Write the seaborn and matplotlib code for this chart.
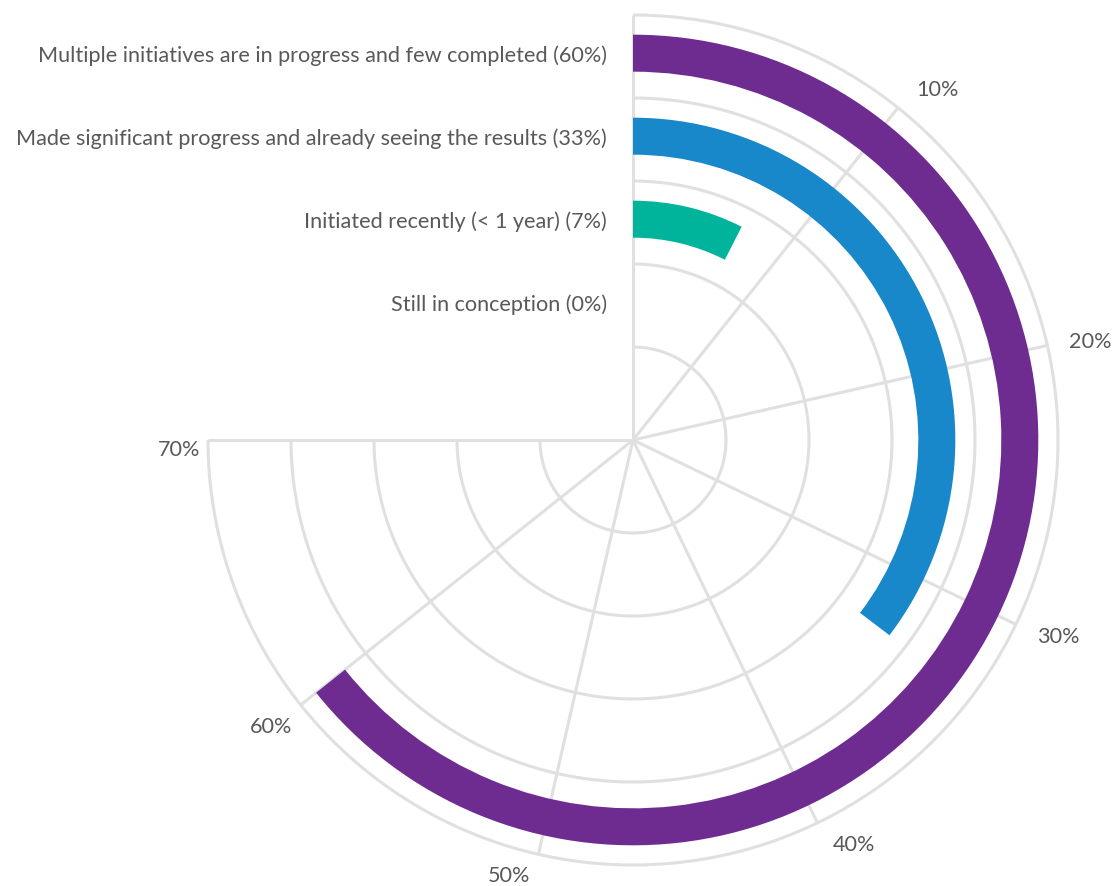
import numpy as np
import pandas as pd
import matplotlib
matplotlib.use("Agg")
import matplotlib.pyplot as plt
import seaborn as sns

# Survey answers: share of respondents per stage (percent)
categories = [
    "Still in conception (0%)",
    "Initiated recently (< 1 year) (7%)",
    "Made significant progress and already seeing the results (33%)",
    "Multiple initiatives are in progress and few completed (60%)",
]
values = [0, 7, 33, 60]
bar_colors = ["#00B49B", "#00B49B", "#1888CB", "#6E2C91"]
tick_values = [10, 20, 30, 40, 50, 60, 70]
tick_labels = ["10%", "20%", "30%", "40%", "50%", "60%", "70%"]

df = pd.DataFrame({"category": categories, "value": values, "color": bar_colors})

sns.set_theme(style="white")
plt.rcParams["font.family"] = ["Lato", "DejaVu Sans"]

TEXT = "#595959"
GRID = "#E0E0E0"
FS = 15.6

W, H, DPI = 1118, 886, 100
fig = plt.figure(figsize=(W / DPI, H / DPI), dpi=DPI)

# geometry in pixels
cx, cy = 633, 440          # centre (from top-left)
unit = 83.0                # band width in px
hole = 93.0 / unit         # inner empty radius in band units
n_bands = len(categories)
r_outer = hole + n_bands
r_lim = r_outer + 0.25
R_px = r_lim * unit
ax = fig.add_axes([(cx - R_px) / W, ((H - cy) - R_px) / H, 2 * R_px / W, 2 * R_px / H],
                  projection="polar")

AXIS_MAX = 70.0
SPAN = 1.5 * np.pi  # 70% sweeps three quarters of the circle


def to_theta(p):
    return np.asarray(p, dtype=float) / AXIS_MAX * SPAN


ax.set_theta_zero_location("N")
ax.set_theta_direction(-1)
ax.set_ylim(0, r_lim)
ax.grid(False)
ax.set_xticks([])
ax.set_yticks([])
ax.spines["polar"].set_visible(False)
ax.patch.set_alpha(0)

# circular grid lines (band boundaries)
arc = np.linspace(0, SPAN, 400)
for k in range(n_bands + 1):
    ax.plot(arc, np.full_like(arc, hole + k), color=GRID, lw=2.2, zorder=1,
            solid_capstyle="butt")

# spokes at every 10%
for p in [0] + tick_values:
    t = float(to_theta(p))
    ax.plot([t, t], [0, r_outer], color=GRID, lw=2.2, zorder=1, solid_capstyle="butt")

# radial bars
bar_height = 37.0 / unit
r_centres = hole + np.arange(n_bands) + 0.54
ax.barh(r_centres, to_theta(df["value"]), left=0, height=bar_height,
        color=df["color"], edgecolor="none", zorder=3)

# category labels to the left of the top spoke
for r, lab in zip(r_centres, df["category"]):
    ax.annotate(lab, xy=(0, r), xytext=(-26, -3), textcoords="offset pixels",
                ha="right", va="center", fontsize=FS, color=TEXT)

# percentage labels around the outside
for p, lab in zip(tick_values, tick_labels):
    t = float(to_theta(p))
    s, c = np.sin(t), np.cos(t)
    down = 3 - 21 * c
    if s > 0.05:
        dx, ha = 11 + 11 * abs(s), "left"
        if c > 0:
            down -= 6 * c
    else:
        dx, ha = -8, "right"
        down += 7 * abs(s) - 4 * max(-c - 0.9, 0) / 0.1
    ax.annotate(lab, xy=(t, r_outer), xytext=(dx, -down), textcoords="offset pixels",
                ha=ha, va="center", fontsize=FS, color=TEXT, annotation_clip=False)

fig.savefig("out.png", dpi=DPI)
